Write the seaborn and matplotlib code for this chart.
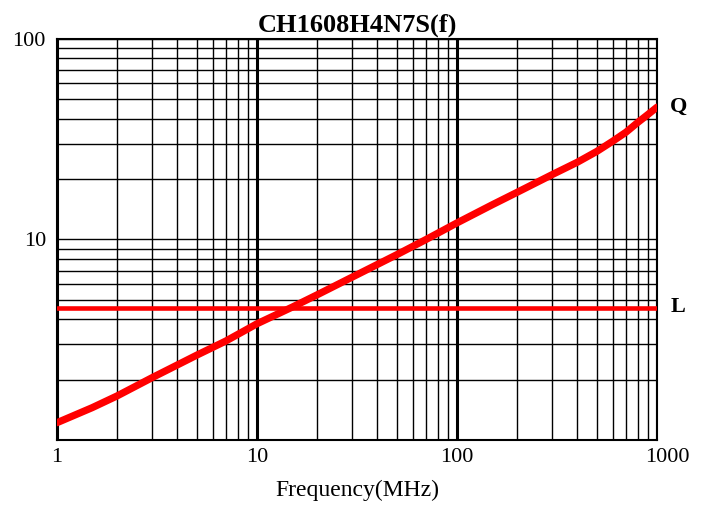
import matplotlib
matplotlib.use("Agg")
import matplotlib.pyplot as plt
import matplotlib.transforms as mtransforms
from matplotlib.ticker import FixedLocator, LogLocator, NullFormatter
import seaborn as sns
import pandas as pd

# Data
freq_q = [1, 1.5, 2, 3, 5, 7, 10, 15, 20, 30, 50, 70, 100, 150, 200, 300, 400, 500, 600, 700, 800, 900, 1000]
q_vals = [1.22, 1.45, 1.66, 2.05, 2.65, 3.12, 3.8, 4.6, 5.3, 6.5, 8.4, 10.0, 12.1, 14.9, 17.2, 21.1, 24.3, 27.5, 30.9, 34.3, 38.3, 42.0, 45.7]
freq_l = [1, 1000]
l_vals = [4.55, 4.55]
x_ticks = [1, 10, 100, 1000]
x_ticklabels = ["1", "10", "100", "1000"]
y_ticks = [10, 100]
y_ticklabels = ["10", "100"]
title = "CH1608H4N7S(f)"
xlabel = "Frequency(MHz)"

sns.set_style("white")
plt.rcParams["font.family"] = ["Liberation Serif", "DejaVu Serif"]
plt.rcParams["text.color"] = "black"
plt.rcParams["axes.labelcolor"] = "black"
plt.rcParams["xtick.color"] = "black"
plt.rcParams["ytick.color"] = "black"

df_q = pd.DataFrame({"f": freq_q, "v": q_vals})
df_l = pd.DataFrame({"f": freq_l, "v": l_vals})

fig = plt.figure(figsize=(7.02, 5.16), dpi=100)
ax = fig.add_axes([57 / 702, 76 / 516, 600 / 702, 401 / 516])
ax.set_xscale("log")
ax.set_yscale("log")
ax.set_xlim(1, 1000)
ax.set_ylim(1, 100)

# grid
ax.xaxis.set_major_locator(FixedLocator(x_ticks))
ax.yaxis.set_major_locator(FixedLocator(y_ticks))
ax.xaxis.set_minor_locator(LogLocator(base=10, subs=range(2, 10), numticks=20))
ax.yaxis.set_minor_locator(LogLocator(base=10, subs=range(2, 10), numticks=20))
ax.xaxis.set_minor_formatter(NullFormatter())
ax.yaxis.set_minor_formatter(NullFormatter())
ax.grid(True, which="minor", color="black", linewidth=1.0)
ax.grid(True, axis="x", which="major", color="black", linewidth=2.2)
ax.grid(True, axis="y", which="major", color="black", linewidth=1.0)
ax.set_axisbelow(True)

sns.lineplot(data=df_l, x="f", y="v", ax=ax, color="#ff0000", linewidth=3.3, zorder=3)
sns.lineplot(data=df_q, x="f", y="v", ax=ax, color="#ff0000", linewidth=5.2, zorder=4)

ax.set_xticks(x_ticks)
ax.set_xticklabels(x_ticklabels, fontsize=16, color="black")
ax.set_yticks(y_ticks)
ax.set_yticklabels(y_ticklabels, fontsize=16, color="black")
ax.tick_params(axis="both", which="both", length=0)
ax.tick_params(axis="x", pad=6)
ax.tick_params(axis="y", pad=8)
lbls = ax.get_xticklabels()
off = mtransforms.ScaledTranslation(-12 / 100, 0, fig.dpi_scale_trans)
lbls[-1].set_horizontalalignment("left")
lbls[-1].set_transform(lbls[-1].get_transform() + off)

ax.set_xlabel(xlabel, fontsize=17, labelpad=9, color="black")
ax.set_ylabel("")
ax.set_title(title, fontsize=19, fontweight="bold", pad=5, color="black")

for s in ax.spines.values():
    s.set_color("black")
    s.set_linewidth(1.5)
    s.set_visible(True)

ax.text(1.022, 46, "Q", fontsize=16, fontweight="bold", va="center", ha="left",
        color="black", transform=ax.get_yaxis_transform())
ax.text(1.022, 4.6, "L", fontsize=16, fontweight="bold", va="center", ha="left",
        color="black", transform=ax.get_yaxis_transform())

fig.savefig("out.png", dpi=100)
